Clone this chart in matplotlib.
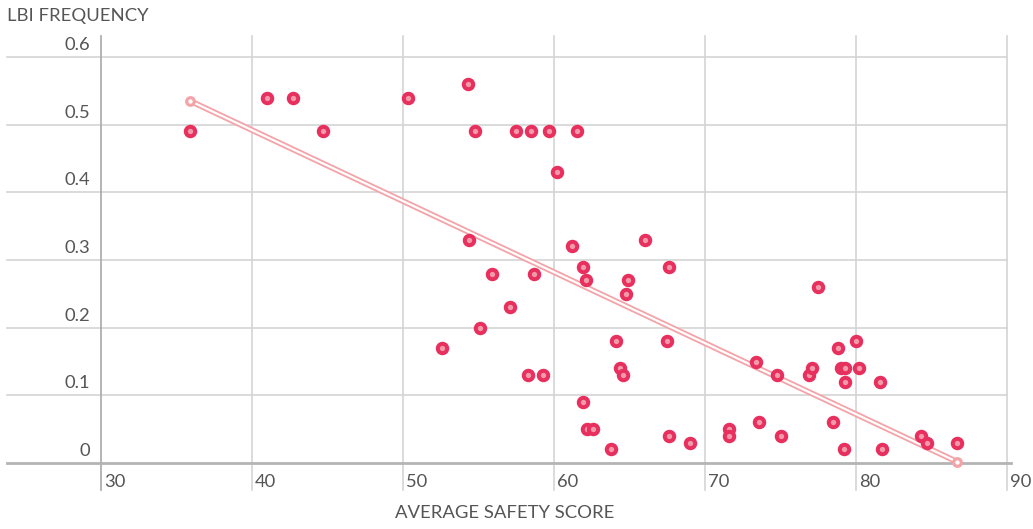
import numpy as np
import matplotlib
matplotlib.use('Agg')
import matplotlib.pyplot as plt
from matplotlib import rc

# 폰트
rc('font', family=['Lato', 'DejaVu Sans'])

# 데이터
safety_score = [35.9, 41.0, 42.7, 44.7, 50.3, 54.3, 54.8, 57.5, 58.5, 59.7,
                61.5, 60.2, 54.4, 61.2, 66.0, 55.9, 58.7, 61.9, 62.1, 64.9,
                64.8, 67.6, 57.1, 55.1, 52.6, 64.1, 67.5, 58.3, 59.3, 64.4,
                64.6, 61.9, 62.2, 62.6, 63.8, 67.6, 69.0, 71.6, 71.6, 73.4,
                73.6, 74.8, 75.0, 76.9, 77.1, 77.5, 78.8, 80.0, 79.0, 79.3,
                80.2, 79.3, 81.6, 78.5, 79.2, 81.7, 84.3, 84.7, 86.7]
lbi_freq = [0.49, 0.54, 0.54, 0.49, 0.54, 0.56, 0.49, 0.49, 0.49, 0.49,
            0.49, 0.43, 0.33, 0.32, 0.33, 0.28, 0.28, 0.29, 0.27, 0.27,
            0.25, 0.29, 0.23, 0.20, 0.17, 0.18, 0.18, 0.13, 0.13, 0.14,
            0.13, 0.09, 0.05, 0.05, 0.02, 0.04, 0.03, 0.05, 0.04, 0.15,
            0.06, 0.13, 0.04, 0.13, 0.14, 0.26, 0.17, 0.18, 0.14, 0.14,
            0.14, 0.12, 0.12, 0.06, 0.02, 0.02, 0.04, 0.03, 0.03]
x_ticks = [30, 40, 50, 60, 70, 80, 90]
y_ticks = [0, 0.1, 0.2, 0.3, 0.4, 0.5, 0.6]
y_tick_labels = ['0', '0.1', '0.2', '0.3', '0.4', '0.5', '0.6']

text_color = '#555555'
grid_color = '#d4d4d4'
dot_edge = '#e8305f'
dot_face = '#f29aaa'
trend_color = '#f4a3a8'

W, H = 1033, 529
fig = plt.figure(figsize=(W / 100, H / 100), dpi=100)
ax = fig.add_axes([101 / W, 1 - 463 / H, 906 / W, 427 / H])
ax.set_xlim(30, 90)
ax.set_ylim(0, 0.6 * 427 / 406)
for s in ax.spines.values():
    s.set_visible(False)
ax.set_xticks([])
ax.set_yticks([])

# 격자선 (왼쪽/아래로 연장)
left_ext = -94 / 906
for yv in y_ticks[1:]:
    ax.axhline(yv, xmin=left_ext, xmax=1, color=grid_color, lw=1.2,
               clip_on=False, zorder=0)
bottom_ext = -27 / 427
for xv in x_ticks[1:]:
    ax.axvline(xv, ymin=bottom_ext, ymax=1, color=grid_color, lw=1.2,
               clip_on=False, zorder=0)
ax.axvline(x_ticks[0], ymin=bottom_ext, ymax=1, color='#a8a8a8', lw=1.2,
           clip_on=False, zorder=1)
ax.axhline(0, xmin=left_ext, xmax=1.004, color='#b4b4b4', lw=2,
           clip_on=False, zorder=1)

# 눈금 레이블
for yv, lab in zip(y_ticks, y_tick_labels):
    ax.annotate(lab, xy=(0, yv), xycoords=('axes fraction', 'data'),
                xytext=(-8, 8.6), textcoords='offset points',
                ha='right', va='center', fontsize=13.2, color=text_color)
for xv in x_ticks:
    ax.annotate(str(xv), xy=(xv, 0), xycoords=('data', 'axes fraction'),
                xytext=(2, -13.5), textcoords='offset points',
                ha='left', va='center', fontsize=13.2, color=text_color)

# 추세선
coef = np.polyfit(safety_score, lbi_freq, 1)
tx = np.array([min(safety_score), max(safety_score)])
ty = np.polyval(coef, tx)
ax.plot(tx, ty, color=trend_color, lw=4.2, solid_capstyle='butt', zorder=2)
ax.plot(tx, ty, color='white', lw=1.6, solid_capstyle='butt', zorder=2)
ax.scatter(tx, ty, s=30, facecolor='white', edgecolor=trend_color,
           linewidth=2.3, zorder=4, clip_on=False)

# 산점도
ax.scatter(safety_score, lbi_freq, s=46, facecolor=dot_face,
           edgecolor=dot_edge, linewidth=2.9, zorder=3, clip_on=False)

fig.text(7 / W, 1 - 16 / H, 'LBI FREQUENCY', ha='left', va='center',
         fontsize=13.3, color=text_color)
fig.text(505 / W, 1 - 513 / H, 'AVERAGE SAFETY SCORE', ha='center',
         va='center', fontsize=13.3, color=text_color)

fig.savefig('out.png', dpi=100)
